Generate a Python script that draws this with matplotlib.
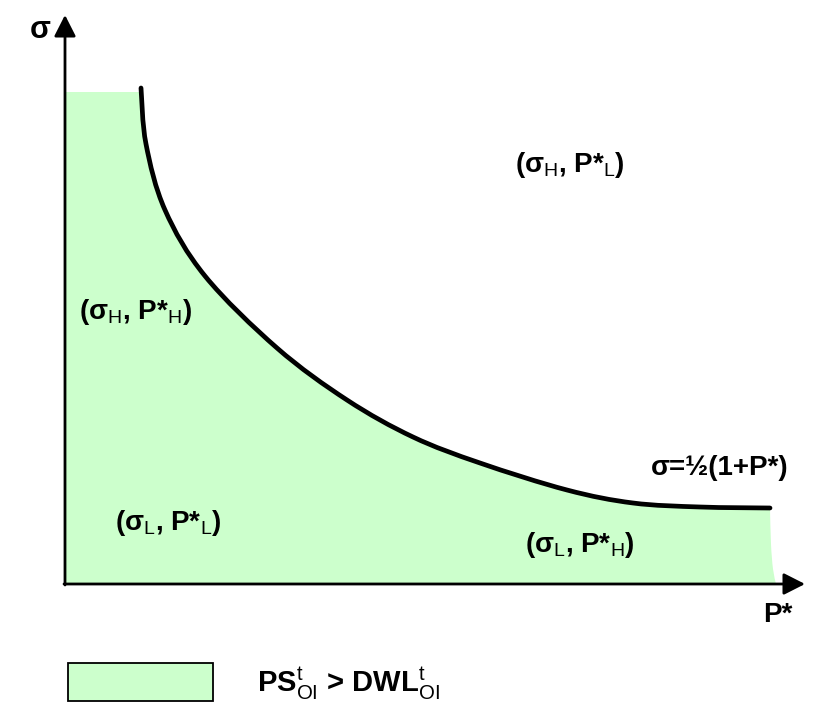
import matplotlib
matplotlib.use("Agg")
import numpy as np
import matplotlib.pyplot as plt
from matplotlib.patches import Rectangle, PathPatch
from matplotlib.path import Path

plt.rcParams["font.family"] = ["Liberation Sans", "DejaVu Sans"]
plt.rcParams["mathtext.fontset"] = "custom"
plt.rcParams["mathtext.rm"] = "Liberation Sans"
plt.rcParams["mathtext.bf"] = "Liberation Sans:bold"
plt.rcParams["mathtext.default"] = "rm"

# Boundary curve sigma(P*) in plot units (P* along x, sigma along y)
curve_p = [76, 81, 100, 140, 212, 282, 348, 415, 502, 568, 635, 705]
curve_s = [496, 440, 374, 308, 236, 184, 147, 121, 94, 81, 77, 76]

# Shaded region: flat top at the left, right edge closing to the P* axis
top_level = 492
right_edge_p = [705, 706, 708, 711]
right_edge_s = [76, 40, 15, 0]

p_max, s_max = 740, 569

region_labels = [
    (r"(σ$_{\mathrm{H}}$, P*$_{\mathrm{L}}$)", 505, 419),
    (r"(σ$_{\mathrm{H}}$, P*$_{\mathrm{H}}$)", 70, 272),
    (r"(σ$_{\mathrm{L}}$, P*$_{\mathrm{L}}$)", 103, 61),
    (r"(σ$_{\mathrm{L}}$, P*$_{\mathrm{H}}$)", 515, 39),
]
curve_label = "σ=½(1+P*)"
legend_label = r"PS$^{\mathrm{t}}_{\mathrm{OI}}$ > DWL$^{\mathrm{t}}_{\mathrm{OI}}$"


def smooth_segments(xs, ys):
    """Cubic Bezier segments (Catmull-Rom style) through the given vertices."""
    pts = np.column_stack([xs, ys]).astype(float)
    n = len(pts)
    verts, codes = [pts[0]], [Path.MOVETO]
    for i in range(n - 1):
        p0 = pts[max(i - 1, 0)]
        p1, p2 = pts[i], pts[i + 1]
        p3 = pts[min(i + 2, n - 1)]
        c1 = p1 + (p2 - p0) / 6.0
        c2 = p2 - (p3 - p1) / 6.0
        verts += [c1, c2, p2]
        codes += [Path.CURVE4] * 3
    return verts, codes


W, H = 819, 705
fig = plt.figure(figsize=(W / 100, H / 100), dpi=100)
ox, oy = 65, 584
ax = fig.add_axes([ox / W, (H - oy) / H, p_max / W, s_max / H])
ax.set_xlim(0, p_max)
ax.set_ylim(0, s_max)
ax.axis("off")

green = "#CCFFCC"

# Filled region
cv, cc = smooth_segments(curve_p, curve_s)
rv, rc = smooth_segments(right_edge_p, right_edge_s)
verts = [(0, 0), (0, top_level), (curve_p[0], top_level)] + cv[1:] + rv[1:] + [(0, 0)]
codes = [Path.MOVETO, Path.LINETO, Path.LINETO] + cc[1:] + rc[1:] + [Path.CLOSEPOLY]
ax.add_patch(PathPatch(Path(verts, codes), facecolor=green, lw=0, zorder=1))

# Boundary line
ax.add_patch(PathPatch(Path(cv, cc), facecolor="none", edgecolor="black",
                       lw=3.4, capstyle="round", zorder=3))

arrow = dict(arrowstyle="-|>,head_length=0.65,head_width=0.33", color="black",
             lw=2.0, mutation_scale=20, shrinkA=0, shrinkB=0)
ax.annotate("", xy=(0, s_max), xytext=(0, -1), arrowprops=arrow,
            annotation_clip=False, zorder=4)
ax.annotate("", xy=(p_max, 0), xytext=(-1, 0), arrowprops=arrow,
            annotation_clip=False, zorder=4)

for txt, x, y in region_labels:
    ax.text(x, y, txt, fontsize=20, fontweight="bold", ha="center",
            va="center", zorder=5)
ax.text(655, 116, curve_label, fontsize=20, fontweight="bold", ha="center",
        va="center", zorder=5)

fig.text(40 / W, 1 - 30 / H, "σ", fontsize=22, fontweight="bold",
         ha="center", va="center")
fig.text(778 / W, 1 - 615 / H, "P*", fontsize=20, fontweight="bold",
         ha="center", va="center")

fig.patches.append(Rectangle((68 / W, 1 - 701 / H), 145 / W, 38 / H,
                             transform=fig.transFigure, facecolor=green,
                             edgecolor="black", lw=1.3))
fig.text(257 / W, 1 - 683 / H, legend_label, fontsize=21, fontweight="bold",
         ha="left", va="center")

fig.savefig("out.png", dpi=100)
